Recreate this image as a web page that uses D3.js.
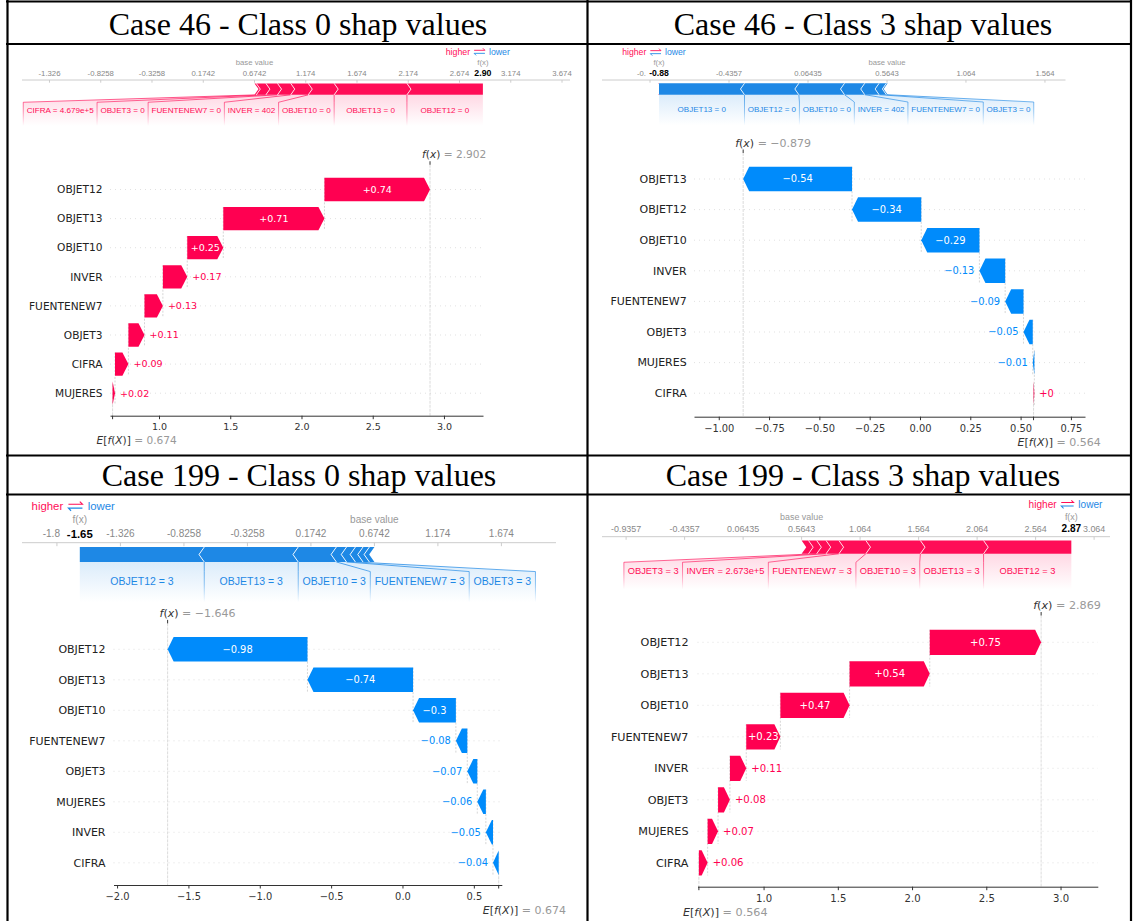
<!DOCTYPE html>
<html>
<head>
<meta charset="utf-8">
<script src="https://cdn.jsdelivr.net/npm/d3@7"></script>
<style>
  body { margin: 0; background: #fff; }
  svg { display: block; }
</style>
</head>
<body>
<svg id="page" width="1133" height="921"></svg>
<script>
// ---------- data ----------
const titles = [
  "Case 46 - Class 0 shap values",
  "Case 46 - Class 3 shap values",
  "Case 199 - Class 0 shap values",
  "Case 199 - Class 3 shap values",
];

const baseClass0 = 0.6742;
const baseClass3 = 0.5643;

// waterfall order (top to bottom) and shap values
const feats46_0 = ["OBJET12", "OBJET13", "OBJET10", "INVER", "FUENTENEW7", "OBJET3", "CIFRA", "MUJERES"];
const shap46_0 = [0.741, 0.71, 0.253, 0.171, 0.129, 0.113, 0.094, 0.017];
const text46_0 = ["0", "0", "0", "402", "0", "0", "4.679e+5", null];

const feats46_3 = ["OBJET13", "OBJET12", "OBJET10", "INVER", "FUENTENEW7", "OBJET3", "MUJERES", "CIFRA"];
const shap46_3 = [-0.541, -0.344, -0.289, -0.128, -0.091, -0.046, -0.008, 0.004];
const text46_3 = ["0", "0", "0", "402", "0", "0", null, null];

const feats199_0 = ["OBJET12", "OBJET13", "OBJET10", "FUENTENEW7", "OBJET3", "MUJERES", "INVER", "CIFRA"];
const shap199_0 = [-0.98, -0.74, -0.3, -0.08, -0.07, -0.06, -0.05, -0.04];
const text199_0 = ["3", "3", "3", "3", "3", null, null, null];

const feats199_3 = ["OBJET12", "OBJET13", "OBJET10", "FUENTENEW7", "INVER", "OBJET3", "MUJERES", "CIFRA"];
const shap199_3 = [0.75, 0.54, 0.466, 0.23, 0.11, 0.08, 0.07, 0.059];
const text199_3 = ["3", "3", "3", "3", "2.673e+5", "3", null, null];

// force plot ticks
const forceTicks46_0 = [-1.326, -0.8258, -0.3258, 0.1742, 0.6742, 1.174, 1.674, 2.174, 2.674, 3.174, 3.674];
const forceTicks46_3 = [-0.9357, -0.4357, 0.06435, 0.5643, 1.064, 1.564];
const forceTicks199_0 = [-1.826, -1.326, -0.8258, -0.3258, 0.1742, 0.6742, 1.174, 1.674];
const forceTicks199_3 = [-0.9357, -0.4357, 0.06435, 0.5643, 1.064, 1.564, 2.064, 2.564, 3.064];

// waterfall ticks
const wfTicks46_0 = [1.0, 1.5, 2.0, 2.5, 3.0];
const wfTicks46_3 = [-1.0, -0.75, -0.5, -0.25, 0, 0.25, 0.5, 0.75];
const wfTicks199_0 = [-2.0, -1.5, -1.0, -0.5, 0, 0.5];
const wfTicks199_3 = [1.0, 1.5, 2.0, 2.5, 3.0];

const panels = [
  { feats: feats46_0, vals: shap46_0, texts: text46_0, base: baseClass0, forceTicks: forceTicks46_0, wfTicks: wfTicks46_0 },
  { feats: feats46_3, vals: shap46_3, texts: text46_3, base: baseClass3, forceTicks: forceTicks46_3, wfTicks: wfTicks46_3 },
  { feats: feats199_0, vals: shap199_0, texts: text199_0, base: baseClass0, forceTicks: forceTicks199_0, wfTicks: wfTicks199_0 },
  { feats: feats199_3, vals: shap199_3, texts: text199_3, base: baseClass3, forceTicks: forceTicks199_3, wfTicks: wfTicks199_3 },
];

// ---------- layout ----------
const titlePos = [[298, 35], [863, 35], [299, 486], [863, 486]];

const forceLayout = [
  { A: 80, s: 0.675, range: [22, 570], domain: [-1.594, 3.752] },
  { A: 80, s: 0.667, range: [602, 1065.5], domain: [-1.2395, 1.694] },
  { A: 542.7, s: 0.875, range: [22, 556], domain: [-2.101, 2.104] },
  { A: 536.7, s: 0.775, range: [602, 1110], domain: [-1.1417, 3.1998] },
];

const wfLayout = [
  { labelRight: 102.5, rowTop: 189.5, step: 29.1, axisY: 415.7, range: [110, 483], domain: [0.656, 3.274], fmt: ".1f", fs: 10.6 },
  { labelRight: 686.7, rowTop: 179, step: 30.6, axisY: 416.7, range: [694, 1085], domain: [-1.123, 0.82], fmt: ".2f", fs: 11 },
  { labelRight: 105.5, rowTop: 649.3, step: 30.5, axisY: 885, range: [113.5, 501.8], domain: [-2.025, 0.696], fmt: ".1f", fs: 11 },
  { labelRight: 688.5, rowTop: 642.3, step: 31.5, axisY: 886.7, range: [697.5, 1097.8], domain: [0.555, 3.251], fmt: ".1f", fs: 11.2 },
];

const RED_F = "#ff0d57", BLUE_F = "#1e88e5";
const RED_W = "#ff0051", BLUE_W = "#008bfb";

const svg = d3.select("#page");
const defs = svg.append("defs");

// table grid
const grid = svg.append("g").attr("stroke", "#000").attr("stroke-width", 2.2);
[1.5, 44, 455.5, 494.5].forEach((yy) =>
  grid.append("line").attr("x1", 6).attr("x2", 1132).attr("y1", yy).attr("y2", yy)
);
[7.5, 587.5, 1131].forEach((xx) =>
  grid.append("line").attr("x1", xx).attr("x2", xx).attr("y1", 0).attr("y2", 921)
);

svg
  .selectAll(".title")
  .data(titles)
  .join("text")
  .attr("class", "title")
  .attr("x", (d, i) => titlePos[i][0])
  .attr("y", (d, i) => titlePos[i][1])
  .attr("text-anchor", "middle")
  .attr("font-family", "'Liberation Serif', 'Times New Roman', serif")
  .attr("font-size", 32)
  .attr("fill", "#000")
  .text((d) => d);

function fmtVal(v) {
  const s = Math.abs(v).toFixed(2).replace(/0+$/, "").replace(/\.$/, "");
  return (v < 0 ? "\u2212" : "+") + s;
}

function drawForce(p, L, idx) {
  const s = L.s, A = L.A;
  const x = d3.scaleLinear().domain(L.domain).range(L.range);
  const fx = p.base + d3.sum(p.vals);
  const g = svg.append("g").attr("font-family", "'Liberation Sans', Arial, Helvetica, sans-serif");
  const barTop = A + 5 * s, barBot = A + 22 * s, barMid = (barTop + barBot) / 2;
  const boxTop = barBot + 11 * s, boxBot = barBot + 46 * s, labelY = barBot + 22 * s;
  const head = 6 * s;

  [["r", RED_F], ["b", BLUE_F]].forEach(([k, c]) => {
    const bg = defs.append("linearGradient").attr("id", `bg${k}${idx}`)
      .attr("gradientUnits", "userSpaceOnUse")
      .attr("x1", 0).attr("x2", 0).attr("y1", barBot).attr("y2", boxBot);
    bg.append("stop").attr("offset", 0).attr("stop-color", c).attr("stop-opacity", 0.16);
    bg.append("stop").attr("offset", 1).attr("stop-color", c).attr("stop-opacity", 0);
    const ln = defs.append("linearGradient").attr("id", `ln${k}${idx}`)
      .attr("gradientUnits", "userSpaceOnUse")
      .attr("x1", 0).attr("x2", 0).attr("y1", barBot).attr("y2", boxBot);
    ln.append("stop").attr("offset", 0).attr("stop-color", c).attr("stop-opacity", 0.9);
    ln.append("stop").attr("offset", 0.55).attr("stop-color", c).attr("stop-opacity", 0.55);
    ln.append("stop").attr("offset", 1).attr("stop-color", c).attr("stop-opacity", 0);
  });

  // axis
  g.append("line")
    .attr("x1", L.range[0]).attr("x2", L.range[1])
    .attr("y1", A).attr("y2", A)
    .attr("stroke", "#ccc").attr("stroke-width", 1);

  const tk = g.selectAll(".ftick").data(p.forceTicks).join("g")
    .attr("transform", (d) => `translate(${x(d)},${A})`);
  tk.append("line").attr("y2", 4 * s).attr("stroke", "#ccc");
  const tickText = tk.append("text")
    .attr("y", -10 * s).attr("dy", "0.35em")
    .attr("text-anchor", "middle")
    .attr("font-size", 11.5 * s)
    .attr("fill", "#888")
    .text((d) => String(d));

  g.append("text")
    .attr("x", x(p.base)).attr("y", A - 26 * s).attr("dy", "0.35em")
    .attr("text-anchor", "middle").attr("font-size", 11.5 * s).attr("fill", "#999")
    .text("base value");
  g.append("text")
    .attr("x", x(fx)).attr("y", A - 26 * s).attr("dy", "0.35em")
    .attr("text-anchor", "middle").attr("font-size", 11.5 * s).attr("fill", "#999")
    .text("f(x)");

  const bold = g.append("text")
    .attr("x", x(fx)).attr("y", A - 10 * s).attr("dy", "0.35em")
    .attr("text-anchor", "middle").attr("font-size", 13 * s)
    .attr("font-weight", "bold").attr("fill", "#000")
    .text(fx.toFixed(2));
  const bw = bold.node().getComputedTextLength();
  const maskL = x(fx) - bw / 2 - 2 * s, maskR = x(fx) + bw / 2 + 2 * s;
  g.insert("rect", () => bold.node())
    .attr("x", maskL).attr("y", A - 18 * s)
    .attr("width", maskR - maskL).attr("height", 15 * s)
    .attr("fill", "#fff");

  // a tick label running under the bold f(x) value keeps only its visible part
  tickText.each(function (d) {
    const el = d3.select(this);
    const w = this.getComputedTextLength();
    const left = x(d) - w / 2, right = x(d) + w / 2;
    if (right > maskL && left < maskR) {
      let str = String(d);
      el.attr("text-anchor", "start").attr("x", -w / 2);
      while (str.length > 0 && left + this.getComputedTextLength() > maskL) {
        str = str.slice(0, -1);
        el.text(str);
      }
    }
  });

  // higher / lower legend
  const c = x(fx) - 5 * s, ly = A - 42 * s, ah = 3 * s;
  g.append("text").attr("x", c - 14 * s).attr("y", ly).attr("dy", "0.35em")
    .attr("text-anchor", "end").attr("font-size", 13 * s).attr("fill", RED_F).text("higher");
  g.append("text").attr("x", c + 14 * s).attr("y", ly).attr("dy", "0.35em")
    .attr("text-anchor", "start").attr("font-size", 13 * s).attr("fill", BLUE_F).text("lower");
  g.append("path")
    .attr("d", `M${c - 8 * s},${ly - 2 * s}H${c + 8 * s}l${-ah},${-ah}`)
    .attr("fill", "none").attr("stroke", RED_F).attr("stroke-width", 1.3 * s);
  g.append("path")
    .attr("d", `M${c + 8 * s},${ly + 2.5 * s}H${c - 8 * s}l${ah},${ah}`)
    .attr("fill", "none").attr("stroke", BLUE_F).attr("stroke-width", 1.3 * s);

  // stack blocks outward from f(x)
  const items = p.feats.map((f, i) => ({ name: f, v: p.vals[i], text: p.texts[i] }));
  const pos = items.filter((d) => d.v > 0).sort((a, b) => b.v - a.v);
  const neg = items.filter((d) => d.v < 0).sort((a, b) => a.v - b.v);
  let cur = fx;
  pos.forEach((d) => { d.x1 = cur; d.x0 = cur - d.v; cur = d.x0; });
  cur = fx;
  neg.forEach((d) => { d.x0 = cur; d.x1 = cur - d.v; cur = d.x1; });

  // labels
  const lab = g.append("g");
  const sw = Math.max(0.8, s);
  let edge = x(fx);
  pos.filter((d) => d.text !== null).forEach((d) => {
    const t = lab.append("text")
      .attr("y", labelY).attr("dy", "0.35em").attr("text-anchor", "middle")
      .attr("font-size", 12 * s).attr("fill", RED_F)
      .text(`${d.name} = ${d.text}`);
    const tw = t.node().getComputedTextLength();
    const sL = x(d.x0), sR = x(d.x1);
    const bR = edge, bL = edge - Math.max(sR - sL, tw + 10 * s);
    edge = bL;
    t.attr("x", (bL + bR) / 2);
    lab.insert("path", ":first-child")
      .attr("d", `M${sL},${barBot}L${bL},${boxTop}L${bL},${boxBot}L${bR},${boxBot}L${bR},${boxTop}L${sR},${barBot}Z`)
      .attr("fill", `url(#bgr${idx})`);
    lab.append("path")
      .attr("d", `M${sL},${barBot}L${bL},${boxTop}L${bL},${boxBot}`)
      .attr("fill", "none").attr("stroke", `url(#lnr${idx})`).attr("stroke-width", sw);
  });
  edge = x(fx);
  neg.filter((d) => d.text !== null).forEach((d) => {
    const t = lab.append("text")
      .attr("y", labelY).attr("dy", "0.35em").attr("text-anchor", "middle")
      .attr("font-size", 12 * s).attr("fill", BLUE_F)
      .text(`${d.name} = ${d.text}`);
    const tw = t.node().getComputedTextLength();
    const sL = x(d.x0), sR = x(d.x1);
    const bL = edge, bR = edge + Math.max(sR - sL, tw + 10 * s);
    edge = bR;
    t.attr("x", (bL + bR) / 2);
    lab.insert("path", ":first-child")
      .attr("d", `M${sL},${barBot}L${bL},${boxTop}L${bL},${boxBot}L${bR},${boxBot}L${bR},${boxTop}L${sR},${barBot}Z`)
      .attr("fill", `url(#bgb${idx})`);
    lab.append("path")
      .attr("d", `M${sR},${barBot}L${bR},${boxTop}L${bR},${boxBot}`)
      .attr("fill", "none").attr("stroke", `url(#lnb${idx})`).attr("stroke-width", sw);
  });

  // blocks
  const blocks = g.append("g");
  pos.forEach((d, i) => {
    const L0 = x(d.x0), R0 = x(d.x1);
    const pts = i === 0
      ? [[L0, barTop], [R0, barTop], [R0, barBot], [L0, barBot], [L0 + head, barMid]]
      : [[L0, barTop], [R0, barTop], [R0 + head, barMid], [R0, barBot], [L0, barBot], [L0 + head, barMid]];
    blocks.append("path").attr("d", d3.line()(pts) + "Z").attr("fill", RED_F);
  });
  neg.forEach((d, i) => {
    const L0 = x(d.x0), R0 = x(d.x1);
    const pts = i === 0
      ? [[L0, barTop], [R0, barTop], [R0 - head, barMid], [R0, barBot], [L0, barBot]]
      : [[L0, barTop], [R0, barTop], [R0 - head, barMid], [R0, barBot], [L0, barBot], [L0 - head, barMid]];
    blocks.append("path").attr("d", d3.line()(pts) + "Z").attr("fill", BLUE_F);
  });
  // white chevron separators
  pos.slice(0, -1).forEach((d) => {
    const L0 = x(d.x0);
    blocks.append("path").attr("d", `M${L0},${barTop}L${L0 + head},${barMid}L${L0},${barBot}`)
      .attr("fill", "none").attr("stroke", "#fff").attr("stroke-width", sw);
  });
  neg.slice(0, -1).forEach((d) => {
    const R0 = x(d.x1);
    blocks.append("path").attr("d", `M${R0},${barTop}L${R0 - head},${barMid}L${R0},${barBot}`)
      .attr("fill", "none").attr("stroke", "#fff").attr("stroke-width", sw);
  });
}

function drawWaterfall(p, L) {
  const g = svg.append("g").attr("font-family", "'DejaVu Sans', sans-serif");
  const n = p.feats.length;
  const x = d3.scaleLinear().domain(L.domain).range(L.range);
  const y = d3.scalePoint().domain(p.feats).range([L.rowTop, L.rowTop + L.step * (n - 1)]);
  const bh = 0.8 * L.step;
  const axesTop = L.rowTop - 0.85 * L.step;
  const fx = p.base + d3.sum(p.vals);

  // dotted row guides
  g.selectAll(".grid").data(p.feats).join("line")
    .attr("x1", L.range[0]).attr("x2", L.range[1])
    .attr("y1", (d) => y(d)).attr("y2", (d) => y(d))
    .attr("stroke", "#ccc").attr("stroke-width", 0.6).attr("stroke-dasharray", "1,4");

  // reference lines
  g.append("line").attr("x1", x(fx)).attr("x2", x(fx))
    .attr("y1", axesTop).attr("y2", L.axisY)
    .attr("stroke", "#ccc").attr("stroke-width", 0.7).attr("stroke-dasharray", "3,1");
  g.append("line").attr("x1", x(p.base)).attr("x2", x(p.base))
    .attr("y1", L.axisY - (L.axisY - axesTop) / n).attr("y2", L.axisY)
    .attr("stroke", "#ccc").attr("stroke-width", 0.7).attr("stroke-dasharray", "3,1");

  // cumulative bars from the bottom row up
  const bars = new Array(n);
  let cur = p.base;
  for (let i = n - 1; i >= 0; i--) {
    bars[i] = { name: p.feats[i], v: p.vals[i], from: cur, to: cur + p.vals[i] };
    cur += p.vals[i];
  }

  for (let i = 0; i < n - 1; i++) {
    const b = bars[i];
    g.append("line").attr("x1", x(b.from)).attr("x2", x(b.from))
      .attr("y1", y(b.name) - bh / 2).attr("y2", y(bars[i + 1].name) + bh / 2)
      .attr("stroke", "#bbb").attr("stroke-width", 0.6).attr("stroke-dasharray", "2,1.5");
  }

  bars.forEach((b) => {
    const x0 = x(b.from), x1 = x(b.to);
    const dist = Math.abs(x1 - x0), hl = Math.min(dist, 6), dir = b.v >= 0 ? 1 : -1;
    const top = y(b.name) - bh / 2, bot = y(b.name) + bh / 2, mid = y(b.name);
    const col = b.v >= 0 ? RED_W : BLUE_W;
    const pts = [[x0, top], [x1 - dir * hl, top], [x1, mid], [x1 - dir * hl, bot], [x0, bot]];
    g.append("path").attr("d", d3.line()(pts) + "Z").attr("fill", col);
    const t = g.append("text")
      .attr("x", (x0 + x1) / 2).attr("y", mid).attr("dy", "0.35em")
      .attr("text-anchor", "middle").attr("font-size", L.fs * 0.9).attr("fill", "#fff")
      .text(fmtVal(b.v));
    if (t.node().getComputedTextLength() > dist) {
      t.attr("x", x1 + dir * 5).attr("text-anchor", dir > 0 ? "start" : "end").attr("fill", col);
    }
  });

  // feature names
  g.selectAll(".fname").data(p.feats).join("text")
    .attr("x", L.labelRight).attr("y", (d) => y(d)).attr("dy", "0.35em")
    .attr("text-anchor", "end").attr("font-size", L.fs).attr("fill", "#222")
    .text((d) => d);

  // x axis
  const ax = g.append("g").attr("transform", `translate(0,${L.axisY})`)
    .call(d3.axisBottom(x).tickValues(p.wfTicks).tickFormat(d3.format(L.fmt))
      .tickSize(3.5).tickSizeOuter(0).tickPadding(4.5));
  ax.attr("font-family", "'DejaVu Sans', sans-serif").attr("font-size", L.fs * 0.9);
  ax.select(".domain").attr("stroke", "#333");
  ax.selectAll(".tick line").attr("stroke", "#333");
  ax.selectAll(".tick text").attr("fill", "#333");

  g.append("line").attr("x1", x(p.base)).attr("x2", x(p.base))
    .attr("y1", L.axisY).attr("y2", L.axisY + 3.5).attr("stroke", "#333");
  g.append("line").attr("x1", x(fx)).attr("x2", x(fx))
    .attr("y1", axesTop - 3.5).attr("y2", axesTop).attr("stroke", "#333");

  // f(x) label
  const ft = g.append("text").attr("x", x(fx) - 8).attr("y", axesTop - 10).attr("dy", "0.35em")
    .attr("font-size", L.fs).attr("fill", "#333");
  ft.append("tspan").attr("font-style", "italic").text("f");
  ft.append("tspan").text("(");
  ft.append("tspan").attr("font-style", "italic").text("x");
  ft.append("tspan").text(")");
  ft.append("tspan").attr("fill", "#999").text(" = " + fx.toFixed(3).replace("-", "\u2212"));

  // E[f(X)] label
  const et = g.append("text").attr("x", x(p.base) - 16).attr("y", L.axisY + 25).attr("dy", "0.35em")
    .attr("font-size", L.fs).attr("fill", "#333");
  et.append("tspan").attr("font-style", "italic").text("E");
  et.append("tspan").text("[");
  et.append("tspan").attr("font-style", "italic").text("f");
  et.append("tspan").text("(");
  et.append("tspan").attr("font-style", "italic").text("X");
  et.append("tspan").text(")]");
  et.append("tspan").attr("fill", "#999").text(" = " + p.base.toFixed(3));
}

panels.forEach((p, i) => {
  drawForce(p, forceLayout[i], i);
  drawWaterfall(p, wfLayout[i]);
});
</script>
</body>
</html>
